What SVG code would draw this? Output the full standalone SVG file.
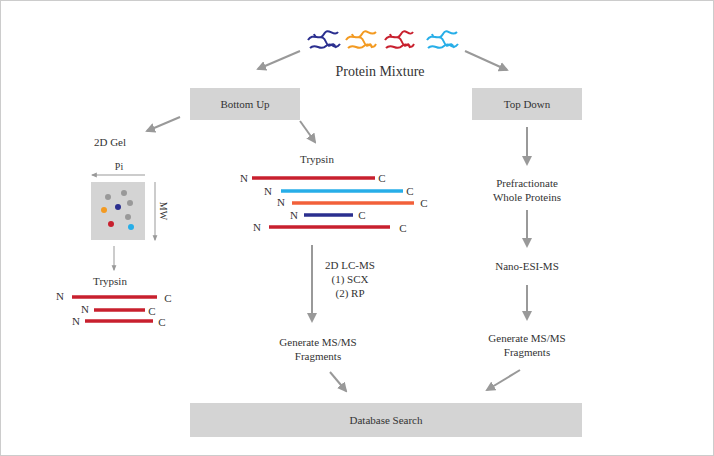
<svg xmlns="http://www.w3.org/2000/svg" width="714" height="456" viewBox="0 0 714 456">
<defs>
<marker id="ah" viewBox="0 0 10 10" refX="8" refY="5" markerWidth="5" markerHeight="5" orient="auto"><path d="M0,0L10,5L0,10z" fill="#999"/></marker>
<marker id="as" viewBox="0 0 10 10" refX="8" refY="5" markerWidth="6" markerHeight="6" orient="auto"><path d="M0,1L10,5L0,9z" fill="#999"/></marker>
</defs>
<style>
text{font-family:"Liberation Serif",serif;font-size:11px;fill:#333;text-anchor:middle}
.box{fill:#d4d4d4}
.c{stroke:#999;stroke-width:2;fill:none;marker-end:url(#ah)}
.t{stroke:#999;stroke-width:1;fill:none;marker-end:url(#as)}
.p{stroke-width:3.5}
.blob{fill:none;stroke-width:2}
</style>
<rect x="0.5" y="0.5" width="713" height="455" fill="#fff" stroke="#ccc"/>
<g id="proteins">
<path class="blob" stroke="#2b2f8f" d="M308,40c5,-8 12,2 16,-6s10,4 14,-2M310,48c6,-6 10,4 16,-2s8,6 14,-2M314,34c3,8 8,-2 12,8s6,-4 10,6"/>
<path class="blob" stroke="#f39a21" d="M346,40c5,-8 12,2 16,-6s8,4 14,-2M348,48c6,-6 10,4 16,-2s8,6 12,-2M352,34c3,8 8,-2 12,8s6,-4 8,6"/>
<path class="blob" stroke="#c8202e" d="M385,40c5,-8 12,2 16,-6s8,4 12,-2M386,48c6,-6 10,4 16,-2s8,6 12,-2M390,34c3,8 8,-2 12,8s6,-4 8,6"/>
<path class="blob" stroke="#27aee8" d="M427,40c5,-8 12,2 16,-6s8,4 14,-2M428,48c6,-6 10,4 16,-2s8,6 14,-2M432,34c3,8 8,-2 12,8s6,-4 10,6"/>
<text x="380" y="76" style="font-size:14px">Protein Mixture</text>
</g>
<g id="bottomup"><rect class="box" x="190" y="88" width="110" height="32"/><text x="245" y="108">Bottom Up</text></g>
<g id="topdown"><rect class="box" x="472" y="88" width="110" height="32"/><text x="527" y="108">Top Down</text></g>
<g id="gel">
<text x="110" y="146">2D Gel</text>
<text x="119" y="170" style="font-size:10px">Pi</text>
<rect x="91" y="182" width="54" height="58" fill="#d4d4d4"/>
<circle cx="108" cy="197" r="3" fill="#999"/><circle cx="124" cy="193" r="3" fill="#999"/><circle cx="130" cy="203" r="3" fill="#999"/><circle cx="128" cy="217" r="3" fill="#999"/>
<circle cx="104" cy="210" r="3" fill="#f39a21"/><circle cx="118" cy="207" r="3" fill="#2b2f8f"/><circle cx="111" cy="224" r="3" fill="#c8202e"/><circle cx="131" cy="227" r="3" fill="#27aee8"/>
<text x="0" y="0" transform="translate(160,211) rotate(90)" style="font-size:10px">MW</text>
</g>
<g id="trypsin1">
<text x="110" y="285">Trypsin</text>
<g stroke="#c8202e" class="p"><line x1="72" y1="297" x2="157" y2="297"/><line x1="94" y1="310" x2="145" y2="310"/><line x1="85" y1="321" x2="153" y2="321"/></g>
<text x="60" y="300">N</text><text x="168" y="302">C</text>
<text x="85" y="313">N</text><text x="152" y="315">C</text>
<text x="76" y="325">N</text><text x="162" y="326">C</text>
</g>
<g id="trypsin2">
<text x="317" y="163">Trypsin</text>
<line class="p" stroke="#c8202e" x1="252" y1="178" x2="375" y2="178"/>
<line class="p" stroke="#27aee8" x1="281" y1="191" x2="403" y2="191"/>
<line class="p" stroke="#f2603a" x1="292" y1="203" x2="414" y2="203"/>
<line class="p" stroke="#2b2f8f" x1="304" y1="215" x2="353" y2="215"/>
<line class="p" stroke="#c8202e" x1="269" y1="227" x2="390" y2="227"/>
<text x="244" y="182">N</text><text x="382" y="182">C</text>
<text x="268" y="195">N</text><text x="410" y="195">C</text>
<text x="281" y="206">N</text><text x="424" y="207">C</text>
<text x="294" y="219">N</text><text x="362" y="219">C</text>
<text x="257" y="231">N</text><text x="403" y="232">C</text>
</g>
<g id="lcms"><text x="350" y="269">2D LC-MS</text><text x="350" y="283">(1) SCX</text><text x="350" y="297">(2) RP</text></g>
<g id="gen1"><text x="318" y="346">Generate MS/MS</text><text x="318" y="360">Fragments</text></g>
<g id="prefrac"><text x="527" y="187">Prefractionate</text><text x="527" y="201">Whole Proteins</text></g>
<g id="nano"><text x="527" y="270">Nano-ESI-MS</text></g>
<g id="gen2"><text x="527" y="342">Generate MS/MS</text><text x="527" y="356">Fragments</text></g>
<g id="db"><rect class="box" x="190" y="403" width="392" height="34"/><text x="386" y="424">Database Search</text></g>
<g id="connectors">
<line class="c" x1="300" y1="51" x2="258" y2="69"/>
<line class="c" x1="465" y1="51" x2="507" y2="70"/>
<line class="c" x1="180" y1="117" x2="147" y2="131"/>
<line class="c" x1="300" y1="121" x2="315" y2="142"/>
<line class="t" x1="145" y1="175" x2="92" y2="175"/>
<line class="t" x1="155" y1="182" x2="155" y2="240"/>
<line class="t" x1="114" y1="246" x2="114" y2="270"/>
<line class="c" x1="312" y1="245" x2="312" y2="321"/>
<line class="c" x1="330" y1="372" x2="346" y2="391"/>
<line class="c" x1="527" y1="127" x2="527" y2="164"/>
<line class="c" x1="527" y1="210" x2="527" y2="246"/>
<line class="c" x1="527" y1="285" x2="527" y2="319"/>
<line class="c" x1="520" y1="370" x2="487" y2="390"/>
</g>
</svg>
